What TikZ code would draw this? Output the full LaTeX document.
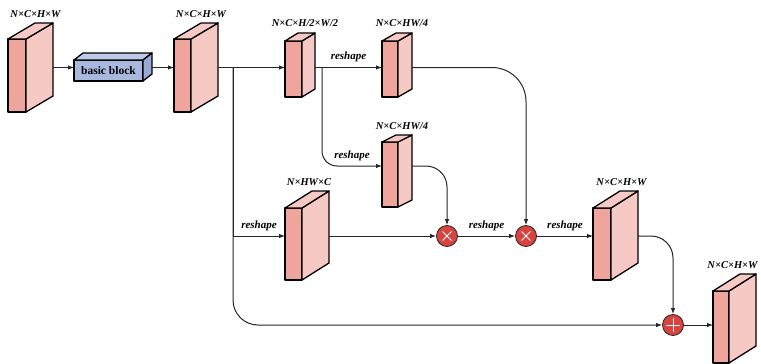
\documentclass[tikz,border=0pt]{standalone}
\usepackage{fontspec}
\setmainfont{Liberation Serif}
\usepackage{xcolor}
\usetikzlibrary{arrows.meta,calc}

\definecolor{fdark}{HTML}{EFA59C}
\definecolor{flight}{HTML}{F6C9C4}
\definecolor{bfront}{HTML}{A9B8DF}
\definecolor{btop}{HTML}{BDCAEA}
\definecolor{bside}{HTML}{98A9D4}
\definecolor{opred}{HTML}{D8433F}

\tikzset{
  face/.style={draw=black,line width=1.3pt,line join=round},
  link/.style={line width=1pt,draw=black!85,-{Latex[length=6pt,width=4.5pt]}},
  dimlbl/.style={anchor=base,inner sep=0pt,font=\fontsize{10.5}{12}\selectfont\bfseries\itshape},
  reshp/.style={above=5pt,inner sep=0pt,font=\fontsize{11}{13}\selectfont\bfseries\itshape},
  bblock/.style={rectangle,minimum width=69pt,minimum height=21pt,inner sep=0pt,outer sep=0pt,
    fill=bfront,face,font=\fontsize{11.5}{13}\selectfont\bfseries},
  mul/.style={circle,minimum size=21pt,inner sep=0pt,fill=opred,draw=black!85,line width=0.8pt,
    path picture={\draw[white,line width=0.9pt] (path picture bounding box.center)
      +(45:6.5pt) -- +(225:6.5pt) +(135:6.5pt) -- +(-45:6.5pt);}},
  add/.style={circle,minimum size=21pt,inner sep=0pt,fill=opred,draw=black!85,line width=0.8pt,
    path picture={\draw[white,line width=0.9pt] (path picture bounding box.center)
      +(0:7pt) -- +(180:7pt) +(90:7pt) -- +(270:7pt);}}
}

% feature map: name, front x, front y, width, height, depth x, depth y, size text, text shift
\newcommand{\featmap}[9]{%
  \filldraw[face,fill=fdark] (#2,#3) rectangle ++(#4,#5);
  \filldraw[face,fill=flight] ({#2+#4},#3) -- ++(#6,-#7) -- ++(0,#5) -- ++(-#6,#7) -- cycle;
  \filldraw[face,fill=flight] (#2,#3) -- ++(#6,-#7) -- ++(#4,0) -- ++(-#6,#7) -- cycle;
  \node[inner sep=0pt,outer sep=0pt,minimum width={#4+#6},minimum height={#5+#7}] (#1)
    at ({#2+(#4+#6)/2},{#3+(#5-#7)/2}) {};
  \node[dimlbl] (#1-lbl) at ([xshift=#9,yshift=6pt]#1.north) {#8};
}

\begin{document}
\begin{tikzpicture}[x=1pt,y=-1pt]
\useasboundingbox (0,0) rectangle (761,364);

\featmap{in}{8}{39}{18}{73}{27}{16}{N×C×H×W}{5pt}
\node[bblock] (bb) at (108.5,70.5) {basic block};
\filldraw[face,fill=btop] (bb.north west) -- ++(9,-7) -- ++(69,0) -- (bb.north east) -- cycle;
\filldraw[face,fill=bside] (bb.north east) -- ++(9,-7) -- ++(0,21) -- (bb.south east) -- cycle;
\featmap{b2}{174}{39}{17}{73}{27}{16}{N×C×H×W}{5pt}
\featmap{b3}{285}{41}{17}{56}{13}{8}{N×C×H/2×W/2}{5pt}
\featmap{b4}{382}{41}{16}{56}{14}{8}{N×C×HW/4}{5pt}
\featmap{b5}{382}{142}{16}{65}{14}{7}{N×C×HW/4}{5pt}
\featmap{hwc}{285}{208}{17}{72}{27}{17}{N×HW×C}{2pt}
\featmap{b6}{593}{208}{18}{72}{27}{17}{N×C×H×W}{6pt}
\featmap{out}{713}{291}{16}{72}{27}{17}{N×C×H×W}{-2pt}

\node[mul] (m1) at (447,236) {};
\node[mul] (m2) at (526,236) {};
\node[add] (sum) at (673,325) {};

\coordinate (bb-out) at (152,67.5);
\coordinate (s1) at (233,67.5);
\coordinate (s2) at (322,67.5);

\draw[link] (in.east) -- (in.east -| bb.west);
\draw[link] (bb-out) -- (bb-out -| b2.west);
\draw[link] (b2.east) -- (b2.east -| b3.west);
\draw[link] (b3.east |- s2) -- node[reshp] (r1) {reshape} (b4.west |- s2);
\draw[link,rounded corners=34pt] (b4.east |- s2) -| (m2.north);
\draw[link,rounded corners=15pt] (s2) |- node[reshp,pos=0.75] (r2) {reshape} ([yshift=5pt]b5.west);
\draw[link,rounded corners=21pt] ([yshift=5pt]b5.east) -| (m1.north);
\draw[link] (s1) |- node[reshp,pos=0.75] (r3) {reshape} (hwc.west |- m1);
\draw[link,rounded corners=25pt] (s1) |- (sum.west);
\draw[link] (hwc.east |- m1) -- (m1.west);
\draw[link] (m1.east) -- node[reshp] (r4) {reshape} (m2.west);
\draw[link] (m2.east) -- node[reshp] (r5) {reshape} (m2.east -| b6.west);
\draw[link,rounded corners=22pt] (b6.east |- m2) -| (sum.north);
\draw[link] (sum.east) -- (sum.east -| out.west);
\end{tikzpicture}
\end{document}
